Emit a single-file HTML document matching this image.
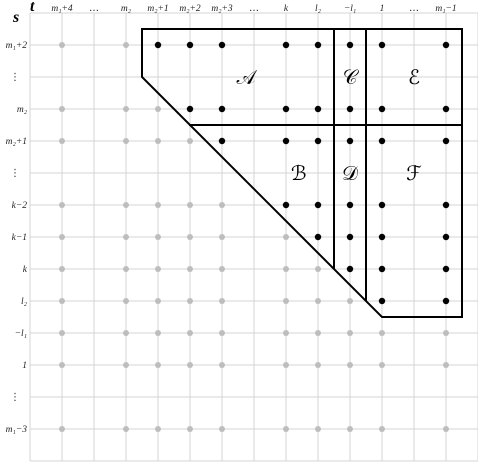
<!DOCTYPE html>
<html><head><meta charset="utf-8"><style>
html,body{margin:0;padding:0;background:#fff;}
svg{display:block;}
.lbl{font-family:"Liberation Serif",serif;font-style:italic;font-size:9.5px;fill:#222;}
.up{font-family:"DejaVu Sans",sans-serif;font-size:10px;fill:#222;}
.big{font-family:"DejaVu Serif","Liberation Serif",serif;font-size:20px;fill:#000;}
</style></head><body>
<svg id="chart" width="478" height="462" viewBox="0 0 478 462"></svg>
<script>
const colLabels = ["m₁+4","…","m₂","m₂+1","m₂+2","m₂+3","…","k","l₂","−l₁","1","…","m₁−1"];
const rowLabels = ["m₁+2","⋮","m₂","m₂+1","⋮","k−2","k−1","k","l₂","−l₁","1","⋮","m₁−3"];
const ellipsisCols = [1,6,11];
const ellipsisRows = [1,4,11];
// first black column index for each row (-1 = none)
const firstBlackCol = [3,-1,4,5,-1,7,8,9,10,-1,-1,-1,-1];
const regionLabels = ["𝒜","𝒞","ℰ","ℬ","𝒟","ℱ"];
const regionCols = [5.75,9,11];
const regionRows = [1,4];

const NS="http://www.w3.org/2000/svg";
const svg=document.getElementById('chart');
const X=i=>62+32*i, Y=j=>45+32*j;
function mk(tag,attrs){const e=document.createElementNS(NS,tag);for(const k in attrs)e.setAttribute(k,attrs[k]);svg.appendChild(e);return e;}

for(let i=-1;i<=colLabels.length;i++){
  const l=mk('line',{x1:X(i),y1:13,x2:X(i),y2:461,stroke:'#d4d4d4','stroke-width':1});
  
  
}
for(let j=-1;j<=rowLabels.length;j++){
  const l=mk('line',{x1:30,y1:Y(j),x2:478,y2:Y(j),stroke:'#d4d4d4','stroke-width':1});
  
  
}
colLabels.forEach((t,i)=>{
  const e=mk('text',{x:X(i),y:11,'text-anchor':'middle',class:t==='…'?'up':'lbl'});e.textContent=t;
  
  
});
rowLabels.forEach((t,j)=>{
  const e=mk('text',{x:t==='⋮'?20:27,y:Y(j)+3,'text-anchor':'end',class:t==='⋮'?'up':'lbl'});e.textContent=t;
  
  
});
let e=mk('text',{x:30,y:11,'font-family':'Liberation Serif,serif','font-style':'italic','font-weight':'bold','font-size':'16'});e.textContent='t';


e=mk('text',{x:13,y:22,'font-family':'Liberation Serif,serif','font-style':'italic','font-weight':'bold','font-size':'16'});e.textContent='s';



for(let j=0;j<rowLabels.length;j++){
  if(ellipsisRows.includes(j))continue;
  for(let i=0;i<colLabels.length;i++){
    if(ellipsisCols.includes(i))continue;
    const black=firstBlackCol[j]>=0&&i>=firstBlackCol[j];
    const c=mk('circle',{cx:X(i),cy:Y(j),r:black?3.2:3,fill:black?'#000':'#bdbdbd'});
    
    
  }
}
const p=mk('polygon',{points:`${X(2.5)},${Y(-0.5)} ${X(12.5)},${Y(-0.5)} ${X(12.5)},${Y(8.5)} ${X(10)},${Y(8.5)} ${X(2.5)},${Y(1)}`,fill:'none',stroke:'#000','stroke-width':2});


const segs=[[X(8.5),Y(-0.5),X(8.5),Y(7)],[X(9.5),Y(-0.5),X(9.5),Y(8)],[X(4)-1,Y(2.5),X(12.5),Y(2.5)]];
segs.forEach(s=>{const l=mk('line',{x1:s[0],y1:s[1],x2:s[2],y2:s[3],stroke:'#000','stroke-width':2});
  
  });
regionLabels.forEach((t,k)=>{
  const i=regionCols[k%3], j=regionRows[Math.floor(k/3)];
  const x=(k===3)?X(7.4):X(i);
  const el=mk('text',{x:x,y:Y(j)+7,'text-anchor':'middle',class:'big'});el.textContent=t;
  
  
});
</script>
</body></html>
